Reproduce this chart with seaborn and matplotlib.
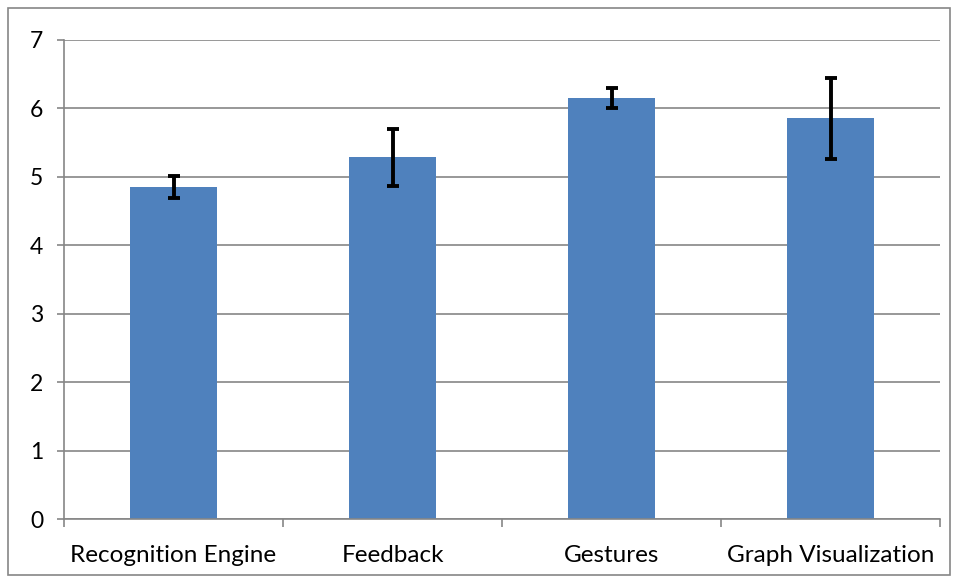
import matplotlib
matplotlib.use("Agg")
import matplotlib.pyplot as plt
import seaborn as sns
import pandas as pd
from matplotlib.patches import Rectangle

categories = ["Recognition Engine", "Feedback", "Gestures", "Graph Visualization"]
means = [4.85, 5.285, 6.15, 5.855]
errors = [0.16, 0.42, 0.15, 0.595]
yticks = [0, 1, 2, 3, 4, 5, 6, 7]

sns.set_style("white")
plt.rcParams['font.family'] = ['Lato', 'DejaVu Sans']

df = pd.DataFrame({"category": categories, "mean": means})

fig = plt.figure(figsize=(9.58, 5.82), dpi=100)
ax = fig.add_axes([64/958, 63/582, 876/958, 479/582])

sns.barplot(data=df, x="category", y="mean", color="#4F81BD", width=0.4,
            saturation=1, linewidth=0, ax=ax, zorder=2)
ax.errorbar(range(len(categories)), means, yerr=errors, fmt="none",
            ecolor="black", elinewidth=2.8, capsize=4.5, capthick=2.8, zorder=3)

ax.set_ylim(0, 7)
ax.set_xlim(-0.5, len(categories) - 0.5)
ax.set_yticks(yticks)
ax.set_yticklabels([str(v) for v in yticks], fontsize=16.5, color="black")
ax.yaxis.grid(True, color="#868686", linewidth=1.2, zorder=0)
ax.set_axisbelow(True)
ax.tick_params(axis="y", length=5, width=1.2, color="#868686", pad=10, left=True)

ax.set_xticks([i - 0.5 for i in range(len(categories) + 1)])
ax.set_xticklabels([])
ax.set_xticks(range(len(categories)), minor=True)
ax.set_xticklabels(categories, minor=True, fontsize=17.5, color="black")
ax.tick_params(axis="x", which="major", length=6, width=1.2, color="#868686", bottom=True)
ax.tick_params(axis="x", which="minor", length=0, pad=19)
ax.set_xlabel("")
ax.set_ylabel("")

for s in ["top", "right"]:
    ax.spines[s].set_visible(False)
for s in ["left", "bottom"]:
    ax.spines[s].set_color("#868686")
    ax.spines[s].set_linewidth(1.2)

fig.patches.append(Rectangle((8/958, 7/582), 942/958, 567/582, transform=fig.transFigure,
                             fill=False, edgecolor="#868686", linewidth=1.2))

fig.savefig("out.png", dpi=100)
